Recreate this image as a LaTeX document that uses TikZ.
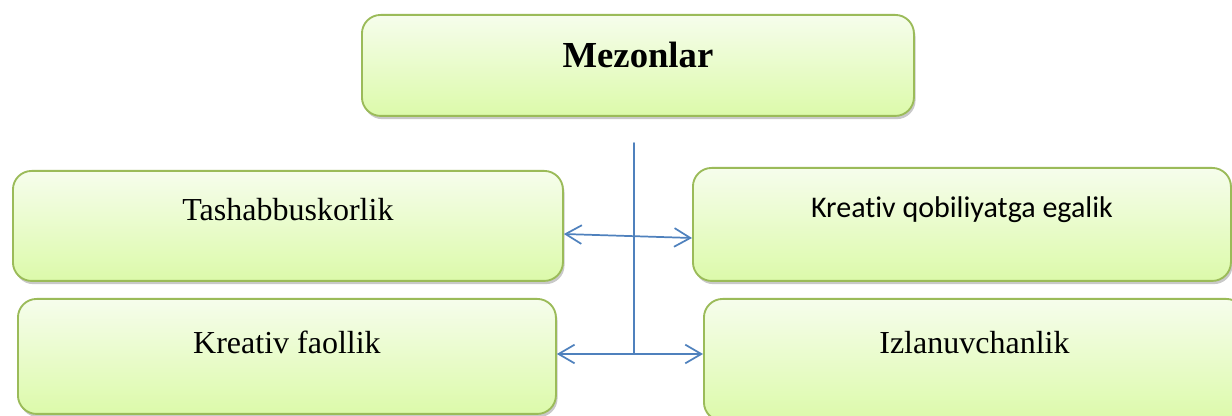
\documentclass[tikz,border=0pt]{standalone}
\usepackage{fontspec}
\setmainfont{Liberation Serif}
\newfontfamily\calibrifont[Ligatures=NoCommon]{Carlito}
\usetikzlibrary{arrows.meta,shadows}
\definecolor{boxline}{RGB}{155,187,89}
\definecolor{boxtop}{RGB}{246,253,236}
\definecolor{boxbottom}{RGB}{220,250,170}
\definecolor{linkblue}{RGB}{79,129,189}
\begin{document}
\begin{tikzpicture}[x=0.75pt, y=-0.75pt, line join=round, line cap=round,
	box/.style={rectangle, rounded corners=14pt, draw=boxline, line width=1.4pt,
		top color=boxtop, bottom color=boxbottom, anchor=north west,
		inner xsep=0pt, inner ysep=0pt,
		drop shadow={shadow xshift=1.2pt, shadow yshift=-2.4pt, opacity=0.3, fill=black!70},
		font=\fontsize{24}{28}\selectfont},
	link/.style={draw=linkblue, line width=1.3pt},
	>={Straight Barb[length=12pt, width=14pt]}]
	\useasboundingbox (0,0) rectangle (1232,416);
	\node[box, minimum width=414pt, text height=39.75pt, text depth=36pt,
		font=\fontsize{27.5}{32}\selectfont\bfseries] (mezon) at (361,14) {Mezonlar};
	\node[box, minimum width=412.5pt, text height=37.5pt, text depth=45pt] (tash) at (12,170) {Tashabbuskorlik};
	\node[box, minimum width=403.5pt, text height=37.5pt, text depth=47.25pt,
		font=\fontsize{22.5}{27}\selectfont\calibrifont] (kreq) at (692,167) {Kreativ qobiliyatga egalik};
	\node[box, minimum width=403.5pt, text height=41.25pt, text depth=45pt] (kref) at (17,298) {Kreativ faollik};
	\node[box, minimum width=405.75pt, text height=41.25pt, text depth=50.25pt] (izla) at (703,298) {Izlanuvchanlik};
	\coordinate (trunk) at (634,143);
	\coordinate (hub) at (634,354);
	\draw[link] (trunk) -- (hub);
	\draw[link,<->] (tash.east |- 0,234) -- (kreq.west |- 0,238);
	\draw[link,<->] (kref.east |- hub) -- (izla.west |- hub);
\end{tikzpicture}
\end{document}
